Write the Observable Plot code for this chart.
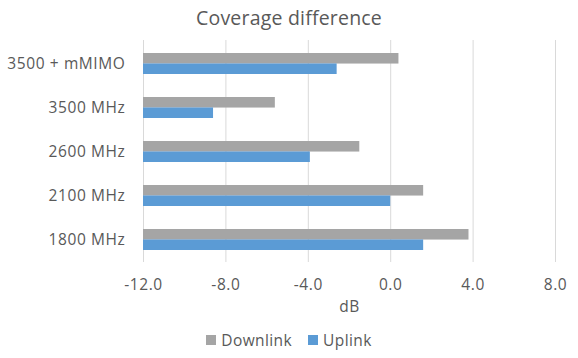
<!DOCTYPE html>
<html><head><meta charset="utf-8">
<script src="https://cdn.jsdelivr.net/npm/d3@7"></script>
<script src="https://cdn.jsdelivr.net/npm/@observablehq/plot@0.6"></script>
<style>
html,body{margin:0;padding:0;background:#fff;}
body{width:578px;height:358px;overflow:hidden;font-family:"Open Sans",sans-serif;color:#595959;}
#title{height:36px;line-height:36px;text-align:center;font-size:19.5px;letter-spacing:0.2px;}
#legend{height:36px;display:flex;justify-content:center;align-items:center;font-size:15.5px;letter-spacing:0.4px;gap:16px;padding-left:0px;}
.item{display:flex;align-items:center;gap:5px;}
.sw{width:10px;height:10px;display:inline-block;}
svg text{letter-spacing:0.6px;}
</style></head><body>
<div id="title">Coverage difference</div>
<div id="chart"></div>
<div id="legend"></div>
<script>
const categories = ["3500 + mMIMO", "3500 MHz", "2600 MHz", "2100 MHz", "1800 MHz"];
const downlink = [0.4, -5.6, -1.5, 1.6, 3.8];
const uplink = [-2.6, -8.6, -3.9, 0.0, 1.6];
const xTicks = [-12, -8, -4, 0, 4, 8];
const seriesNames = ["Downlink", "Uplink"];
const seriesColors = ["#A5A5A5", "#5B9BD5"];

const xMin = xTicks[0], xMax = xTicks[xTicks.length - 1];
const dlData = categories.map((c, i) => ({cat: c, series: seriesNames[0], value: downlink[i]}));
const ulData = categories.map((c, i) => ({cat: c, series: seriesNames[1], value: uplink[i]}));

const plot = Plot.plot({
  width: 578, height: 286,
  marginTop: 4, marginBottom: 60, marginLeft: 143, marginRight: 23,
  style: {fontFamily: "'Open Sans', sans-serif", fontSize: "15.5px", color: "#595959", background: "transparent", overflow: "visible"},
  x: {domain: [xMin, xMax], ticks: xTicks, tickFormat: d => d.toFixed(1), label: "dB", labelAnchor: "center", labelArrow: "none", tickSize: 0, tickPadding: 16, labelOffset: 49},
  y: {domain: categories, paddingInner: 0.53, paddingOuter: 0.265, label: null, tickSize: 0, tickPadding: 18},
  color: {domain: seriesNames, range: seriesColors},
  marks: [
    Plot.gridX(xTicks, {stroke: "#D9D9D9", strokeOpacity: 1}),
    Plot.barX(dlData, {y: "cat", x1: xMin, x2: "value", fill: "series", insetBottom: 10.45}),
    Plot.barX(ulData, {y: "cat", x1: xMin, x2: "value", fill: "series", insetTop: 10.45})
  ]
});
document.getElementById("chart").appendChild(plot);

const legend = document.getElementById("legend");
seriesNames.forEach((n, i) => {
  const it = document.createElement("span");
  it.className = "item";
  const sw = document.createElement("span");
  sw.className = "sw";
  sw.style.background = seriesColors[i];
  const tx = document.createElement("span");
  tx.textContent = n;
  it.appendChild(sw); it.appendChild(tx);
  legend.appendChild(it);
});
</script>
</body></html>
